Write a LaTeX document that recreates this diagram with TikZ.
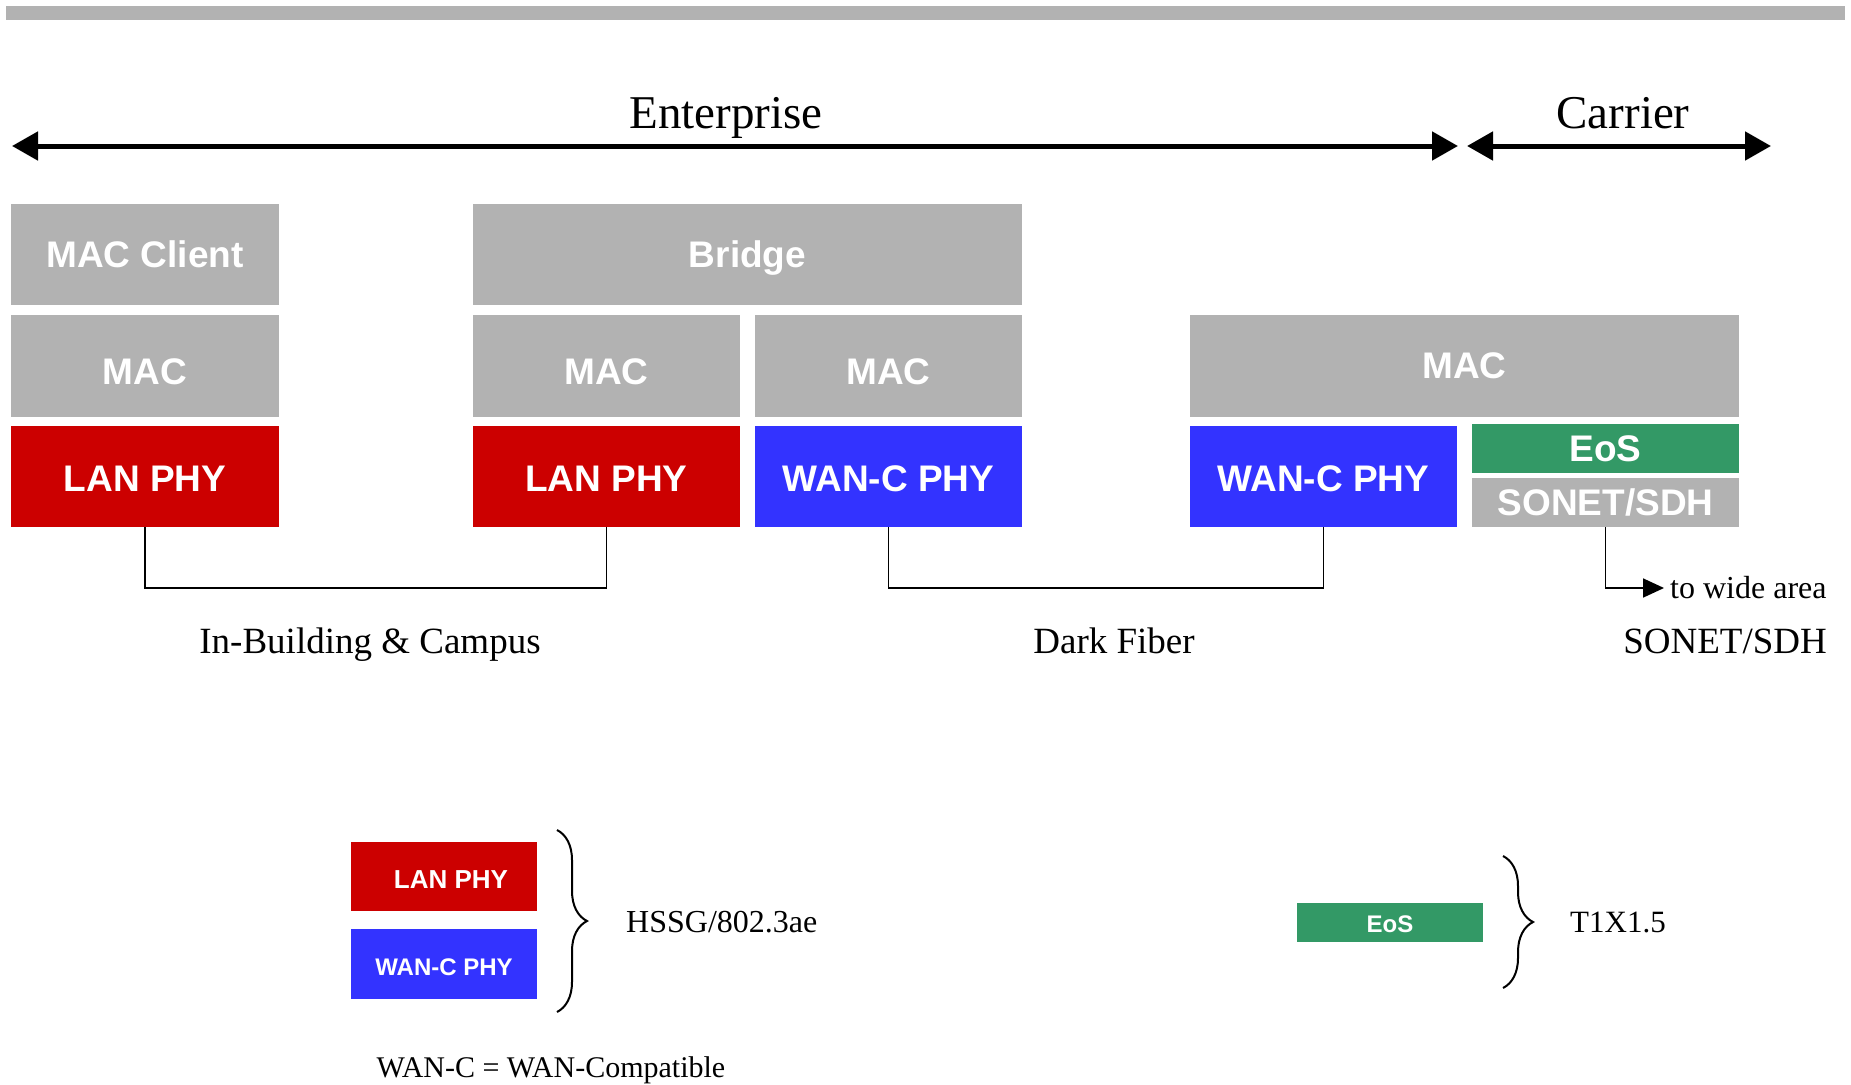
\documentclass[tikz,border=0pt]{standalone}
\usepackage{fontspec}
\setmainfont{Liberation Serif}
\setsansfont{Liberation Sans}
\usepackage{tikz}
\usepackage{xcolor}
\usetikzlibrary{arrows.meta, positioning, decorations.pathreplacing}
\definecolor{laygray}{RGB}{178,178,178}
\definecolor{lanred}{RGB}{204,0,0}
\definecolor{wanblue}{RGB}{51,51,255}
\definecolor{eosgreen}{RGB}{51,153,102}
\newcommand{\fsz}[1]{\fontsize{#1}{#1}\selectfont}
\newcommand{\dropby}[2]{\raisebox{-#1pt}{#2}}
\tikzstyle{layer}=[rectangle, inner sep=0pt, text=white, text depth=0pt,
  font=\sffamily\bfseries\fsz{37}, text centered]
\tikzstyle{graybox}=[layer, fill=laygray]
\tikzstyle{redbox}=[layer, fill=lanred]
\tikzstyle{bluebox}=[layer, fill=wanblue]
\tikzstyle{greenbox}=[layer, fill=eosgreen]
\tikzstyle{spanarr}=[{Triangle[length=26pt,width=28pt]}-{Triangle[length=26pt,width=28pt]}, line width=5pt]
\tikzstyle{wire}=[line width=1.8pt]
\tikzstyle{bigbrace}=[decorate, decoration={brace, amplitude=30pt}, line width=2pt]
\tikzstyle{lbl}=[inner sep=0pt, font=\fsz{37}]

\begin{document}
\begin{tikzpicture}[x=1pt, y=-1pt]
        \useasboundingbox (0,0) rectangle (1851,1084);
        \fill[laygray] (6,6) rectangle (1845,20);

        \coordinate (entL) at (12,146);
        \coordinate (entR) at (1458,146);
        \coordinate (carL) at (1467,146);
        \coordinate (carR) at (1771,146);
        \draw[spanarr] (entL)--(entR);
        \draw[spanarr] (carL)--(carR);
        \node[lbl, font=\fsz{47}, anchor=base] (ent) at (726,128) {Enterprise};
        \node[lbl, font=\fsz{47}, anchor=base] (car) at (1623,128) {Carrier};

        \node[graybox, minimum width=268, minimum height=101] (mcl) at (145,254.5) {MAC Client};
        \node[graybox, minimum width=268, minimum height=102] (mac1) at (145,366) {\dropby{12}{MAC}};
        \node[redbox, minimum width=268, minimum height=101] (lan1) at (145,476.5) {\dropby{4}{LAN PHY}};

        \node[graybox, minimum width=549, minimum height=101] (brg) at (747.5,254.5) {Bridge};
        \node[graybox, minimum width=267, minimum height=102] (mac2) at (606.5,366) {\dropby{12}{MAC}};
        \node[graybox, minimum width=267, minimum height=102] (mac3) at (888.5,366) {\dropby{12}{MAC}};
        \node[redbox, minimum width=267, minimum height=101] (lan2) at (606.5,476.5) {\dropby{4}{LAN PHY}};
        \node[bluebox, minimum width=267, minimum height=101] (wan1) at (888.5,476.5) {\dropby{4}{WAN-C PHY}};

        \node[graybox, minimum width=549, minimum height=102] (mac4) at (1464.5,366) {MAC};
        \node[bluebox, minimum width=267, minimum height=101] (wan2) at (1323.5,476.5) {\dropby{4}{WAN-C PHY}};
        \node[greenbox, minimum width=267, minimum height=49] (eos) at (1605.5,448.5) {EoS};
        \node[graybox, minimum width=267, minimum height=49] (sdh) at (1605.5,502.5) {SONET/SDH};

        \draw[wire] (lan1.south)--++(0,61)-|(lan2.south);
        \draw[wire] (wan1.south)--++(0,61)-|(wan2.south);
        \coordinate (wide) at (1664,588);
        \draw[wire, -{Triangle[length=21pt,width=19pt]}] (sdh.south)|-(wide);
        \node[lbl, font=\fsz{32}, anchor=west] (wtxt) at (1670,588) {to wide area};

        \node[lbl, anchor=base] (campus) at (370,653) {In-Building \& Campus};
        \node[lbl, anchor=base] (dark) at (1114,653) {Dark Fiber};
        \node[lbl, anchor=base east] (sonet) at (1827,653) {SONET/SDH};

        \node[redbox, font=\sffamily\bfseries\fsz{26}, minimum width=186, minimum height=69] (leglan) at (444,876.5) {\hspace*{14pt}\dropby{6}{LAN PHY}};
        \node[bluebox, font=\sffamily\bfseries\fsz{24}, minimum width=186, minimum height=70] (legwan) at (444,964) {\dropby{6}{WAN-C PHY}};
        \draw[bigbrace] (557,830)--(557,1012);
        \node[lbl, font=\fsz{32}, anchor=west] (hssg) at (626,922) {HSSG/802.3ae};
        \node[lbl, font=\fsz{30}, anchor=base] (wanc) at (551,1077) {WAN-C = WAN-Compatible};

        \node[greenbox, font=\sffamily\bfseries\fsz{24}, minimum width=186, minimum height=39] (legeos) at (1390,922.5) {\dropby{4}{EoS}};
        \draw[bigbrace] (1503,856)--(1503,988);
        \node[lbl, font=\fsz{31}, anchor=west] (t1x) at (1570,922) {T1X1.5};
      \end{tikzpicture}
\end{document}
